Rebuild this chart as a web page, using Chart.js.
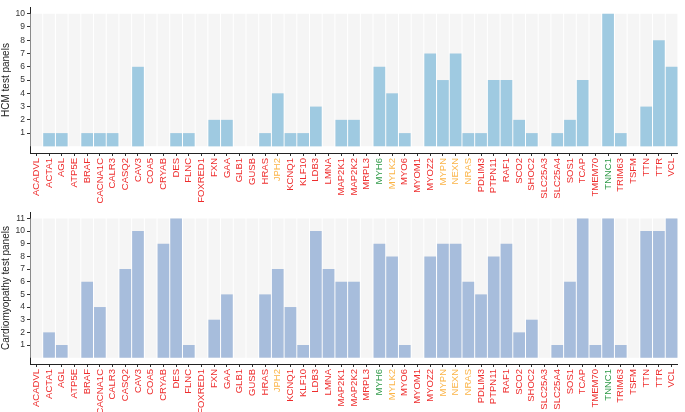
<!DOCTYPE html>
<html>
<head>
<meta charset="utf-8">
<script src="https://cdn.jsdelivr.net/npm/chart.js@4.4.0/dist/chart.umd.min.js"></script>
<style>
  body { margin: 0; background: #fff; font-family: "Liberation Sans", Arial, sans-serif; }
  #top { position: absolute; left: 0; top: 0; width: 685px; height: 212px; }
  #bottom { position: absolute; left: 0; top: 205px; width: 685px; height: 207px; z-index: 2; }
</style>
</head>
<body>
<div id="top"><canvas id="hcm"></canvas></div>
<div id="bottom"><canvas id="cardio"></canvas></div>
<script>
const genes = ['ACADVL', 'ACTA1', 'AGL', 'ATP5E', 'BRAF', 'CACNA1C', 'CALR3', 'CASQ2', 'CAV3', 'COA5',
  'CRYAB', 'DES', 'FLNC', 'FOXRED1', 'FXN', 'GAA', 'GLB1', 'GUSB', 'HRAS', 'JPH2',
  'KCNQ1', 'KLF10', 'LDB3', 'LMNA', 'MAP2K1', 'MAP2K2', 'MRPL3', 'MYH6', 'MYLK2', 'MYO6',
  'MYOM1', 'MYOZ2', 'MYPN', 'NEXN', 'NRAS', 'PDLIM3', 'PTPN11', 'RAF1', 'SCO2', 'SHOC2',
  'SLC25A3', 'SLC25A4', 'SOS1', 'TCAP', 'TMEM70', 'TNNC1', 'TRIM63', 'TSFM', 'TTN', 'TTR', 'VCL'];

const orangeGenes = ['JPH2', 'MYLK2', 'MYPN', 'NEXN', 'NRAS'];
const greenGenes = ['MYH6', 'TNNC1'];

const hcmPanels = [0, 1, 1, 0, 1, 1, 1, 0, 6, 0,
  0, 1, 1, 0, 2, 2, 0, 0, 1, 4,
  1, 1, 3, 0, 2, 2, 0, 6, 4, 1,
  0, 7, 5, 7, 1, 1, 5, 5, 2, 1,
  0, 1, 2, 5, 0, 10, 1, 0, 3, 8, 6];

const cardioPanels = [0, 2, 1, 0, 6, 4, 0, 7, 10, 0,
  9, 11, 1, 0, 3, 5, 0, 0, 5, 7,
  4, 1, 10, 7, 6, 6, 0, 9, 8, 1,
  0, 8, 9, 9, 6, 5, 8, 9, 2, 3,
  0, 1, 6, 11, 1, 11, 1, 0, 10, 10, 11];

const hcmTicks = [1, 2, 3, 4, 5, 6, 7, 8, 9, 10];
const cardioTicks = [1, 2, 3, 4, 5, 6, 7, 8, 9, 10, 11];

function geneColor(g) {
  if (orangeGenes.includes(g)) return '#fbb447';
  if (greenGenes.includes(g)) return '#2f9a48';
  return '#ee2d2d';
}

function makeChart(id, values, ticks, title, barColor, padTop, xHeight) {
  const top = ticks[ticks.length - 1];
  return new Chart(document.getElementById(id), {
    type: 'bar',
    data: {
      labels: genes,
      datasets: [
        { data: values, backgroundColor: barColor, borderWidth: 0 },
        { data: genes.map(() => top), backgroundColor: '#f5f5f5', borderWidth: 0 }
      ]
    },
    options: {
      responsive: true,
      maintainAspectRatio: false,
      animation: false,
      layout: { padding: { top: padTop, right: -4, left: 0, bottom: 0 } },
      plugins: { legend: { display: false }, tooltip: { enabled: false } },
      datasets: { bar: { grouped: false, categoryPercentage: 1, barPercentage: 0.92 } },
      scales: {
        x: {
          grid: { offset: false, drawOnChartArea: false, drawTicks: true, tickLength: 3, color: '#333' },
          border: { color: '#222' },
          ticks: {
            autoSkip: false, minRotation: 90, maxRotation: 90, padding: 2,
            font: { family: 'Liberation Sans', size: 9.5 },
            color: ctx => geneColor(genes[ctx.index])
          },
          afterFit: s => { s.height = xHeight; }
        },
        y: {
          min: -0.5,
          max: top + 0.5,
          grid: { drawOnChartArea: false, drawTicks: true, tickLength: 3, color: '#333' },
          border: { color: '#222' },
          ticks: { padding: 2, color: '#333', font: { family: 'Liberation Sans', size: 8.5 } },
          afterBuildTicks: s => { s.ticks = ticks.map(v => ({ value: v })); },
          title: { display: true, text: title, padding: 0, color: '#222', font: { family: 'Liberation Sans', size: 10 } },
          afterFit: s => { s.width = 30; }
        }
      }
    }
  });
}

makeChart('hcm', hcmPanels, hcmTicks, 'HCM test panels', '#9fcae1', 0, 59);
makeChart('cardio', cardioPanels, cardioTicks, 'Cardiomyopathy test panels', '#a7bddc', 6.5, 48);
</script>
</body>
</html>
